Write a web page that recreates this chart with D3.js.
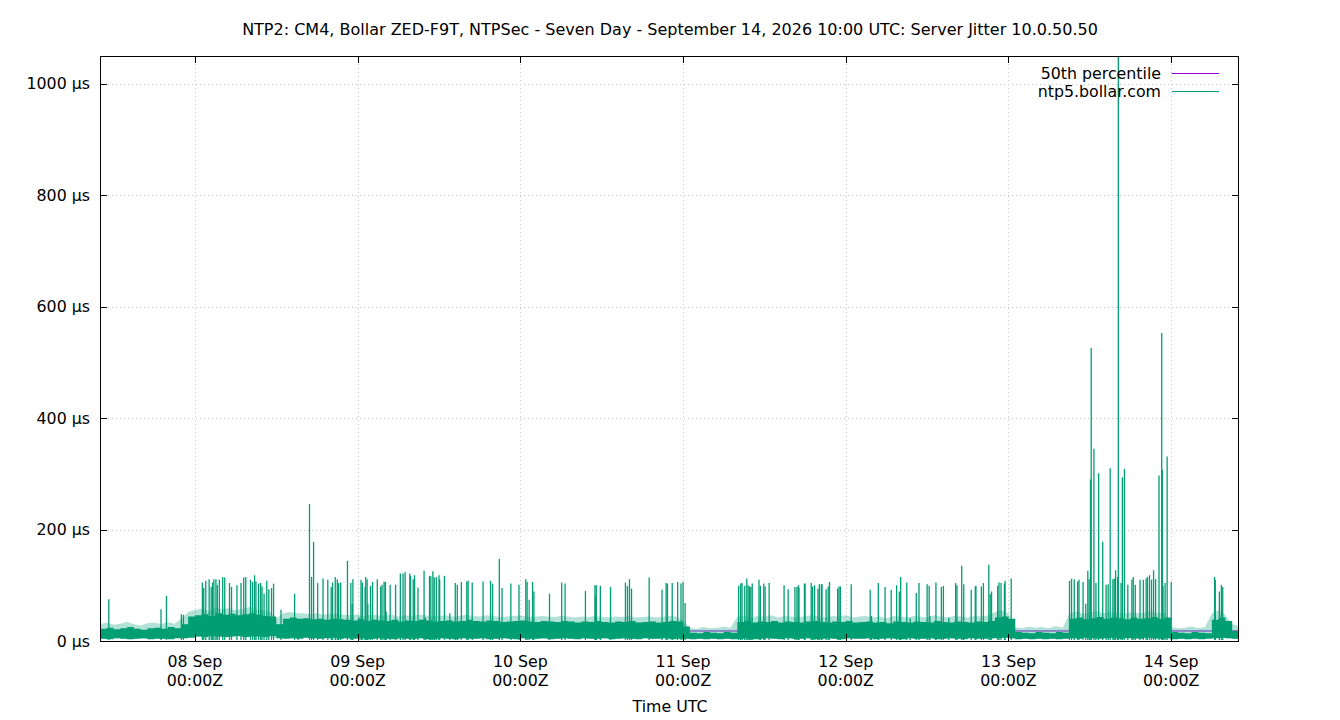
<!DOCTYPE html>
<html>
<head>
<meta charset="utf-8">
<script src="https://cdn.jsdelivr.net/npm/d3@7"></script>
<style>
  body { margin: 0; background: #fff; }
  svg { font-family: "DejaVu Sans", sans-serif; }
</style>
</head>
<body>
<div id="chart"></div>
<script>
// Datos (horas desde 07 Sep 10:00 UTC, valores en µs)
const startTime = Date.UTC(2026, 8, 7, 10, 0);
const endTime = Date.UTC(2026, 8, 14, 10, 0);

const yTicks = [0, 200, 400, 600, 800, 1000];
const seriesNames = ["50th percentile", "ntp5.bollar.com"];
const p50Value = 18;

// banda densa del jitter, un valor por hora (h = 0..168)
const bandTop = [
  22,24,21,23,25,22,20,23,24,22,25,23,
  30,44,
  46,48,45,50,47,49,46,48,50,47,45,44,
  30,40,
  42,40,41,39,40,38,40,39,
  38,37,39,36,38,37,36,38,35,37,36,38,37,35,36,37,35,36,38,36,35,37,36,34,35,36,37,35,34,36,35,34,36,35,33,35,34,36,34,33,35,34,36,33,34,35,33,34,36,35,
  26,15,14,16,15,14,16,15,
  34,36,33,35,34,36,33,35,34,33,35,36,34,33,35,34,36,33,34,35,33,34,32,35,34,33,35,34,33,36,34,33,35,34,33,35,34,36,
  42,44,40,
  16,15,14,16,15,14,16,15,
  40,42,39,41,43,40,42,41,39,42,40,41,43,40,42,
  16,15,14,16,15,14,
  38,42,36,
  18,17
];
const bandFuzz = [
  30,33,29,31,34,30,28,32,33,30,34,31,
  40,52,
  56,58,54,60,57,59,55,58,61,57,55,54,
  40,50,
  52,50,50,48,50,47,50,48,
  47,46,48,45,47,46,45,47,44,46,45,47,46,44,45,46,44,45,47,45,44,46,45,43,44,45,46,44,43,45,44,43,45,44,42,44,43,45,43,42,44,43,45,42,43,44,42,43,45,44,
  36,24,22,25,23,24,26,24,
  44,46,42,45,44,46,42,45,44,42,45,46,44,42,45,44,46,42,44,45,42,44,41,45,44,42,45,44,42,46,44,42,45,44,42,45,44,46,
  52,55,50,
  25,23,26,24,25,23,27,24,
  50,53,49,51,54,50,53,51,49,52,50,51,54,50,52,
  25,23,24,26,23,25,
  50,55,46,
  30,28
];
const bandLow = [
  4,3,5,4,3,4,5,3,4,4,3,5,
  5,6,
  8,7,9,8,7,8,9,7,8,8,7,9,
  5,4,
  5,4,6,5,4,5,6,4,
  5,4,5,3,4,5,4,3,5,4,4,5,3,4,5,4,3,5,4,4,5,3,4,5,4,3,5,4,4,5,3,4,5,4,3,5,4,4,5,3,4,5,4,3,5,4,4,5,3,4,
  4,3,4,3,4,3,4,3,
  4,5,3,4,5,4,3,5,4,4,5,3,4,5,4,3,5,4,4,5,3,4,5,4,3,5,4,4,5,3,4,5,4,3,5,4,4,5,
  5,6,5,
  3,4,3,4,3,4,3,4,
  5,4,6,5,4,5,6,4,5,5,4,6,5,4,5,
  3,4,3,4,3,4,
  5,6,5,
  4,3
];

// picos sueltos: hora y valor
const spikeHours = [
  1.3,9.0,9.8,12.0,12.3,15.1,15.3,15.6,16.1,16.4,16.6,16.8,17.1,17.3,17.6,18.1,18.4,19.1,19.4,20.2,
  20.8,21.2,21.5,22.2,22.5,22.8,23.0,23.4,23.7,23.9,24.2,24.6,24.9,25.3,25.6,26.7,28.7,29.2,30.9,31.2,
  31.5,32.1,32.9,33.6,34.1,34.3,34.7,35.0,35.2,35.5,36.5,37.0,37.2,37.3,38.2,38.5,38.7,39.1,39.2,39.4,
  39.5,39.9,40.2,40.9,41.4,41.6,41.9,42.1,42.2,42.8,43.6,44.3,44.7,45.0,45.7,45.8,46.2,46.4,46.9,47.8,
  48.0,48.6,48.8,49.1,49.3,49.6,50.0,50.1,50.8,51.6,52.4,52.7,53.3,54.1,54.3,54.9,56.5,57.6,57.9,58.9,
  59.3,60.6,61.8,62.8,63.0,63.3,63.8,64.0,66.3,68.1,68.6,71.6,73.0,73.1,73.2,73.8,75.3,77.5,77.8,78.1,
  78.4,81.0,82.9,83.5,83.7,84.4,85.2,85.7,86.0,86.3,94.2,94.5,94.7,95.1,95.4,95.6,95.8,96.0,96.2,97.2,
  97.4,97.9,98.1,98.7,100.9,101.5,102.5,102.8,103.0,103.1,103.9,104.0,104.9,105.1,105.4,105.9,106.1,106.4,106.5,107.1,
  107.4,107.6,108.8,109.0,109.2,110.8,113.6,113.8,114.8,115.8,116.7,117.5,117.9,118.1,119.0,119.5,120.4,120.8,122.0,122.3,
  122.4,123.3,124.1,124.4,125.2,126.2,126.4,127.1,127.4,128.5,129.1,129.2,130.0,130.3,131.1,131.3,131.5,132.4,132.6,132.9,
  133.4,133.5,134.4,143.0,143.3,143.7,144.2,144.4,145.0,145.4,145.7,145.9,146.1,146.2,146.6,146.9,147.3,147.9,148.4,148.7,
  149.0,149.4,149.6,149.8,150.1,150.2,150.6,150.8,151.1,151.6,152.2,152.4,152.7,153.4,153.9,154.3,154.5,154.8,155.1,155.4,
  155.7,156.2,156.6,156.7,156.8,157.1,157.4,158.0,164.4,164.5,165.1,165.4,165.6
];
const spikeValues = [
  75,57,81,48,47,105,95,108,111,97,105,111,111,101,110,115,114,104,97,100,
  104,114,115,110,106,118,107,103,104,98,85,108,93,95,103,56,85,40,246,115,
  178,104,112,110,97,105,115,111,104,105,144,104,67,111,42,110,105,97,115,111,
  67,99,106,111,98,101,107,106,53,101,101,121,121,124,121,117,111,118,96,126,
  42,117,116,125,114,115,118,111,117,50,104,101,106,107,108,105,107,108,103,147,
  95,103,101,111,106,74,106,89,85,105,103,90,100,80,100,99,97,105,99,111,
  94,114,92,104,103,104,106,103,106,68,99,103,104,99,112,100,98,97,103,110,
  99,103,98,104,100,93,97,97,100,96,103,103,104,98,100,94,102,102,102,93,
  98,106,94,98,98,102,92,45,104,97,92,100,89,115,105,41,86,104,102,99,
  45,105,97,99,42,104,100,135,102,92,98,99,98,104,137,84,89,99,105,104,
  103,108,112,108,112,111,107,110,106,67,126,111,290,526,345,104,301,178,101,102,
  310,111,112,127,115,1080,104,294,309,101,110,115,101,110,110,112,115,118,110,127,
  111,297,553,307,99,104,331,106,115,110,89,101,97
];

const width = 1340, height = 720;
const margin = { left: 100, right: 1239, top: 56, bottom: 641 };
const green = "#009e73", purple = "#9400d3";
const fontSize = "15.8px";

const hourDate = h => new Date(startTime + h * 3600e3);

const x = d3.scaleUtc()
  .domain([new Date(startTime), new Date(endTime)])
  .range([margin.left, margin.right]);
const y = d3.scaleLinear()
  .domain([0, 1050])
  .range([margin.bottom, margin.top]);

const svg = d3.select("#chart").append("svg")
  .attr("width", width)
  .attr("height", height);

svg.append("defs").append("clipPath").attr("id", "plotClip")
  .append("rect")
  .attr("x", margin.left).attr("y", margin.top)
  .attr("width", margin.right - margin.left)
  .attr("height", margin.bottom - margin.top);

// título
svg.append("text")
  .attr("x", 670).attr("y", 34.5)
  .attr("text-anchor", "middle")
  .style("font-size", "16px")
  .text("NTP2: CM4, Bollar ZED-F9T, NTPSec - Seven Day - September 14, 2026 10:00 UTC: Server Jitter 10.0.50.50");

// rejilla punteada
const dayTicks = x.ticks(d3.utcDay.every(1));
const grid = svg.append("g")
  .attr("stroke", "#c8c8c8")
  .attr("stroke-width", 1)
  .attr("stroke-dasharray", "1,3");
grid.selectAll("line.gx")
  .data(dayTicks)
  .enter().append("line")
  .attr("x1", d => Math.round(x(d)) + 0.5).attr("x2", d => Math.round(x(d)) + 0.5)
  .attr("y1", margin.top).attr("y2", margin.bottom);
grid.selectAll("line.gy")
  .data(yTicks.filter(d => d > 0))
  .enter().append("line")
  .attr("x1", margin.left).attr("x2", margin.right)
  .attr("y1", d => Math.round(y(d)) + 0.5).attr("y2", d => Math.round(y(d)) + 0.5);

// datos
const plot = svg.append("g").attr("clip-path", "url(#plotClip)");

// 50th percentile (queda debajo de la serie)
plot.append("line")
  .attr("x1", margin.left).attr("x2", margin.right)
  .attr("y1", y(p50Value)).attr("y2", y(p50Value))
  .attr("stroke", purple)
  .attr("stroke-width", 1);

const hours = d3.range(bandTop.length);

// borde difuso de la banda
const fuzzArea = d3.area()
  .x(h => x(hourDate(h)))
  .y0(h => y(bandLow[h]))
  .y1(h => y(bandFuzz[h]))
  .curve(d3.curveLinear);
plot.append("path")
  .datum(hours)
  .attr("d", fuzzArea)
  .attr("fill", green)
  .attr("fill-opacity", 0.3);

const bandArea = d3.area()
  .x(h => x(hourDate(h)))
  .y0(h => y(bandLow[h]))
  .y1(h => y(bandTop[h]))
  .curve(d3.curveStepAfter);
plot.append("path")
  .datum(hours)
  .attr("d", bandArea)
  .attr("fill", green);

plot.selectAll("line.spike")
  .data(spikeHours)
  .enter().append("line")
  .attr("class", "spike")
  .attr("x1", h => x(hourDate(h))).attr("x2", h => x(hourDate(h)))
  .attr("y1", y(2))
  .attr("y2", (h, i) => y(spikeValues[i]))
  .attr("stroke", green)
  .attr("stroke-width", 1.3);

// marco
svg.append("rect")
  .attr("x", margin.left + 0.5).attr("y", margin.top + 0.5)
  .attr("width", margin.right - margin.left - 1)
  .attr("height", margin.bottom - margin.top)
  .attr("fill", "none")
  .attr("stroke", "#000")
  .attr("stroke-width", 1);

// marcas del eje Y (izquierda y espejo a la derecha)
const tickLen = 7;
const yt = svg.append("g").attr("stroke", "#000");
yTicks.forEach(v => {
  const yy = Math.round(y(v)) + 0.5;
  yt.append("line").attr("x1", margin.left).attr("x2", margin.left + tickLen).attr("y1", yy).attr("y2", yy);
  yt.append("line").attr("x1", margin.right - tickLen).attr("x2", margin.right).attr("y1", yy).attr("y2", yy);
});
svg.append("g").selectAll("text")
  .data(yTicks)
  .enter().append("text")
  .attr("x", 90)
  .attr("y", d => y(d) + 5.5)
  .attr("text-anchor", "end")
  .style("font-size", fontSize)
  .text(d => `${d} µs`);

// marcas del eje X
const xt = svg.append("g").attr("stroke", "#000");
dayTicks.forEach(d => {
  const xx = Math.round(x(d)) + 0.5;
  xt.append("line").attr("x1", xx).attr("x2", xx).attr("y1", margin.bottom).attr("y2", margin.bottom - tickLen);
  xt.append("line").attr("x1", xx).attr("x2", xx).attr("y1", margin.top).attr("y2", margin.top + tickLen);
});
const fmtDay = d3.utcFormat("%d %b");
const fmtTime = d3.utcFormat("%H:%MZ");
const xl = svg.append("g").attr("text-anchor", "middle").style("font-size", fontSize);
dayTicks.forEach(d => {
  xl.append("text").attr("x", x(d)).attr("y", 666.5).text(fmtDay(d));
  xl.append("text").attr("x", x(d)).attr("y", 685.5).text(fmtTime(d));
});
svg.append("text")
  .attr("x", 670).attr("y", 712)
  .attr("text-anchor", "middle")
  .style("font-size", fontSize)
  .text("Time UTC");

// leyenda
const legendColors = [purple, green];
const legend = svg.append("g");
seriesNames.forEach((name, i) => {
  const ly = 79 + i * 18;
  legend.append("text")
    .attr("x", 1161).attr("y", ly)
    .attr("text-anchor", "end")
    .style("font-size", fontSize)
    .text(name);
  legend.append("line")
    .attr("x1", 1172).attr("x2", 1219)
    .attr("y1", ly - 5.5).attr("y2", ly - 5.5)
    .attr("stroke", legendColors[i])
    .attr("stroke-width", 1);
});
</script>
</body>
</html>
